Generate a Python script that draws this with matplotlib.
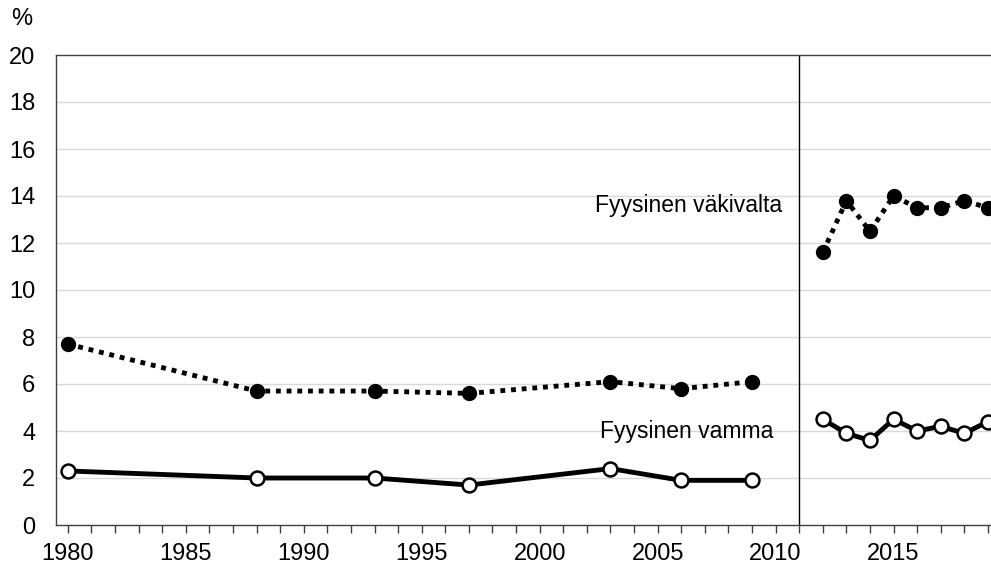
import matplotlib.pyplot as plt
import numpy as np

plt.rcParams['font.family'] = ['Liberation Sans', 'DejaVu Sans']

# survey years and shares (%)
years_a = [1980, 1988, 1993, 1997, 2003, 2006, 2009]
years_b = [2012, 2013, 2014, 2015, 2016, 2017, 2018, 2019]
violence_a = [7.7, 5.7, 5.7, 5.6, 6.1, 5.8, 6.1]
violence_b = [11.6, 13.8, 12.5, 14.0, 13.5, 13.5, 13.8, 13.5]
injury_a = [2.3, 2.0, 2.0, 1.7, 2.4, 1.9, 1.9]
injury_b = [4.5, 3.9, 3.6, 4.5, 4.0, 4.2, 3.9, 4.4]
break_year = 2011
label_years = [1980, 1985, 1990, 1995, 2000, 2005, 2010, 2015]

fig = plt.figure(figsize=(9.91, 5.65), dpi=100)
ax = fig.add_axes([56 / 991, 40 / 565, 935 / 991, 470 / 565])

for y in np.arange(2, 20, 2):
    ax.axhline(y, color='#d9d9d9', lw=1, zorder=0)

ax.axvline(break_year, color='black', lw=1, zorder=1)

for xs, ys in [(years_a, violence_a), (years_b, violence_b)]:
    ax.plot(xs, ys, color='black', lw=3.5, ls=(0, (1, 1.2)), marker='o',
            ms=10, mfc='black', mec='black', zorder=3)
for xs, ys in [(years_a, injury_a), (years_b, injury_b)]:
    ax.plot(xs, ys, color='black', lw=3.5, ls='-', marker='o',
            ms=10, mfc='white', mec='black', mew=1.8, zorder=3)

ax.text(2010.26, 13.6, 'Fyysinen väkivalta', ha='right', va='center', fontsize=16.5)
ax.text(2009.92, 3.96, 'Fyysinen vamma', ha='right', va='center', fontsize=16.5)

ax.set_xlim(1979.5, 2019.13)
ax.set_ylim(0, 20)
ax.set_yticks(np.arange(0, 21, 2))
ax.set_xticks(label_years)
ax.set_xticks(np.arange(1980, 2020), minor=True)
ax.tick_params(axis='x', which='both', direction='out', length=6, width=1,
               color='#404040', labelsize=17, pad=7)
ax.tick_params(axis='y', length=0, labelsize=17, pad=15)

for s in ['left', 'bottom', 'top']:
    ax.spines[s].set_color('#404040')
    ax.spines[s].set_linewidth(1)
ax.spines['right'].set_visible(False)

fig.text(22 / 991, 1 - 19 / 565, '%', ha='center', va='center', fontsize=17)

fig.savefig('out.png', dpi=100)
